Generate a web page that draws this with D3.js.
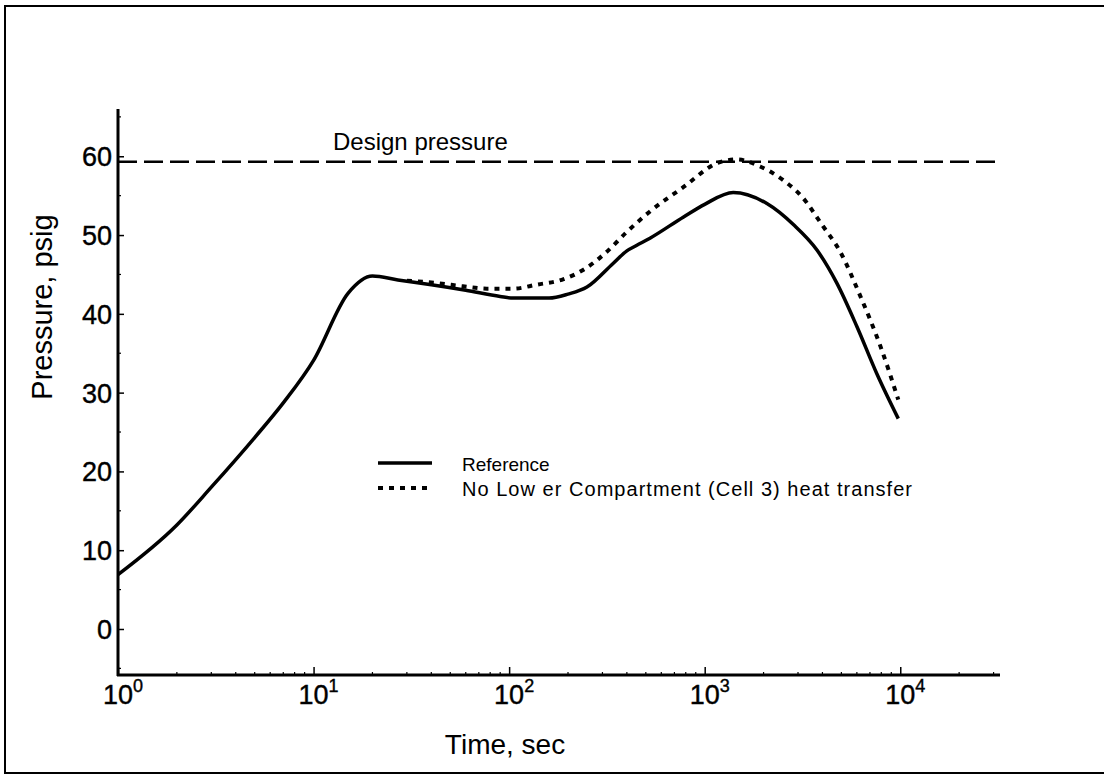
<!DOCTYPE html>
<html><head><meta charset="utf-8">
<script src="https://cdn.jsdelivr.net/npm/d3@7"></script>
<style>body{margin:0;background:#fff}svg{display:block}text{font-family:"Liberation Sans",Arial,sans-serif;fill:#000}</style>
</head><body><svg id="c" width="1104" height="776"></svg>
<script>
// Data
const refTime = [1,2,3,5,7,10,15,20,27,40,60,90,105,160,200,250,340,400,450,525,780,1000,1400,2080,2850,3750,4740,6000,7590,9770];
const refPressure = [6.9,13.2,18.0,24.3,28.7,34.1,42.6,44.8,44.3,43.7,43.0,42.2,42.0,42.0,42.5,43.4,46.4,48.0,48.7,49.6,52.3,53.9,55.4,54.0,51.3,48.1,43.9,38.4,32.4,26.7];
const noHtTime = [30,43,58,77,105,138,190,240,310,400,525,780,1150,1455,1920,2510,3160,3980,4900,6310,7940,9770];
const noHtPressure = [44.2,43.9,43.5,43.2,43.2,43.7,44.4,45.6,47.7,50.4,53.0,56.1,59.1,59.6,58.7,57.0,54.8,51.3,48.0,42.0,35.8,29.1];
const designPressure = 59.3;
const yTicks = [0,10,20,30,40,50,60];
const xExponents = [0,1,2,3,4];
const legendLabels = ["Reference","No Low er Compartment (Cell 3) heat transfer"];

const svg = d3.select("#c");
const x = d3.scaleLog().domain([1, Math.pow(10,4.51)]).range([118,1000]);
const y = d3.scaleLinear().domain([-5.84,66.0]).range([675,109]);

// border
svg.append("rect").attr("x",5).attr("y",6).attr("width",1103).attr("height",767)
  .attr("fill","none").attr("stroke","#000").attr("stroke-width",2);

// axes
const yAxis = d3.axisRight(y).tickValues(yTicks).tickSize(6).tickFormat("");
const ga = svg.append("g").attr("transform","translate(118,0)").call(yAxis);
ga.select(".domain").remove();
ga.selectAll("line").attr("stroke-width",1.5);
const yMinor = d3.range(-5,66,10);
svg.append("g").selectAll("line").data(yMinor).join("line")
  .attr("x1",118).attr("x2",121).attr("y1",d=>y(d)).attr("y2",d=>y(d)).attr("stroke","#000").attr("stroke-width",1.2);

const xMajor = xExponents.map(e=>Math.pow(10,e));
const gx = svg.append("g").attr("transform","translate(0,675)")
  .call(d3.axisTop(x).tickValues(xMajor).tickSize(8).tickFormat(""));
gx.select(".domain").remove();
gx.selectAll("line").attr("stroke-width",1.5);
const xMinor = [];
for (let e=0;e<=4;e++) for (let m=2;m<=9;m++){const v=m*Math.pow(10,e); if (v<=Math.pow(10,4.51)) xMinor.push(v);}
svg.append("g").selectAll("line").data(xMinor).join("line")
  .attr("x1",d=>x(d)).attr("x2",d=>x(d)).attr("y1",675).attr("y2",672).attr("stroke","#000").attr("stroke-width",1.2);

svg.append("line").attr("x1",118).attr("x2",118).attr("y1",109).attr("y2",676).attr("stroke","#000").attr("stroke-width",3);
svg.append("line").attr("x1",117).attr("x2",1000).attr("y1",675).attr("y2",675).attr("stroke","#000").attr("stroke-width",3);

// tick labels
svg.append("g").selectAll("text").data(yTicks).join("text")
  .attr("x",112).attr("y",d=>y(d)+10).attr("text-anchor","end")
  .style("font-size","27px").style("stroke","#000").style("stroke-width","0.4px").text(d=>d);
const xl = svg.append("g").selectAll("text").data(xExponents).join("text")
  .attr("x",d=>x(Math.pow(10,d))+5).attr("y",704).attr("text-anchor","middle")
  .style("font-size","27px").style("stroke","#000").style("stroke-width","0.4px");
xl.append("tspan").text("10");
xl.append("tspan").attr("dy",-12).style("font-size","18px").text(d=>d);

// axis titles
svg.append("text").attr("x",505).attr("y",754).attr("text-anchor","middle").style("font-size","28px").text("Time, sec");
svg.append("text").attr("transform","translate(52,307) rotate(-90)").attr("text-anchor","middle").style("font-size","29px").text("Pressure, psig");

// design pressure
svg.append("line").attr("x1",x(1)).attr("x2",x(Math.pow(10,4.51))).attr("y1",y(designPressure)).attr("y2",y(designPressure))
  .attr("stroke","#000").attr("stroke-width",2.5).attr("stroke-dasharray","19,7");
svg.append("text").attr("x",333).attr("y",150).style("font-size","24px").text("Design pressure");

// curves
const line = d3.line().x(d=>x(d[0])).y(d=>y(d[1])).curve(d3.curveMonotoneX);
const refData = refTime.map((t,i)=>[t,refPressure[i]]);
const noData = noHtTime.map((t,i)=>[t,noHtPressure[i]]);
svg.append("path").attr("d",line(noData)).attr("fill","none").attr("stroke","#000").attr("stroke-width",4).attr("stroke-dasharray","5,6");
svg.append("path").attr("d",line(refData)).attr("fill","none").attr("stroke","#000").attr("stroke-width",3.5).attr("stroke-linejoin","round");

// legend
const lg = svg.append("g");
lg.append("line").attr("x1",378).attr("x2",432).attr("y1",463).attr("y2",463).attr("stroke","#000").attr("stroke-width",3.5);
lg.append("line").attr("x1",378).attr("x2",432).attr("y1",488).attr("y2",488).attr("stroke","#000").attr("stroke-width",4).attr("stroke-dasharray","5,6");
lg.selectAll("text").data(legendLabels).join("text").attr("x",462).attr("y",(d,i)=>471+i*25)
  .style("font-size",(d,i)=>i===0?"19px":"20px")
  .each(function(d,i){ if(i===1) d3.select(this).attr("textLength",450).attr("lengthAdjust","spacing"); })
  .text(d=>d);
</script></body></html>
